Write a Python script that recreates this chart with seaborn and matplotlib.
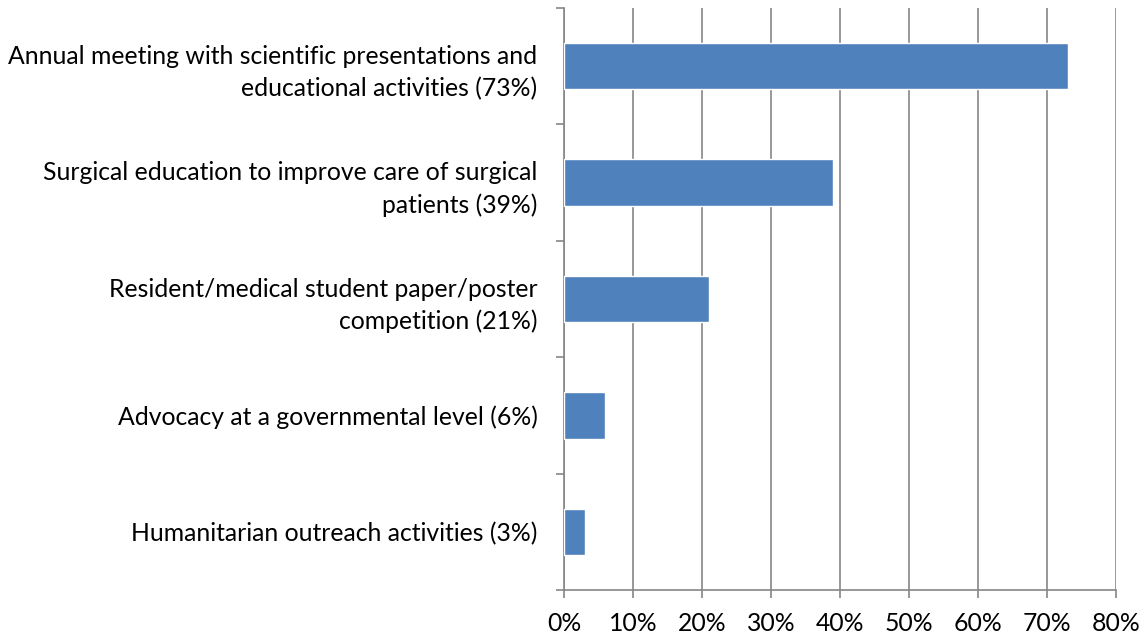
import matplotlib.pyplot as plt
import seaborn as sns
import pandas as pd
from matplotlib.ticker import FuncFormatter

sns.set_theme(style="white")
plt.rcParams["font.family"] = ["Lato", "DejaVu Sans"]

categories = [
    "Annual meeting with scientific presentations and\neducational activities (73%)",
    "Surgical education to improve care of surgical\npatients (39%)",
    "Resident/medical student paper/poster\ncompetition (21%)",
    "Advocacy at a governmental level (6%)",
    "Humanitarian outreach activities (3%)",
]
values = [73, 39, 21, 6, 3]

df = pd.DataFrame({"category": categories, "value": values})

grey = "#868686"
fig = plt.figure(figsize=(11.41, 6.39), dpi=100)
ax = fig.add_axes([564 / 1141, 1 - 590 / 639, (1116 - 564) / 1141, (590 - 8) / 639])

sns.barplot(data=df, x="value", y="category", orient="h", color="#4F81BD",
            saturation=1, width=0.4, ax=ax, zorder=3)

ax.set_xlim(0, 80)
ax.set_xticks(range(0, 81, 10))
ax.xaxis.set_major_formatter(FuncFormatter(lambda v, p: f"{v:.0f}%"))
ax.set_ylim(4.5, -0.5)
ax.set_yticks([i - 0.5 for i in range(6)], minor=False)
ax.set_yticklabels([])
ax.set_yticks(range(5), minor=True)
ax.set_yticklabels(categories, minor=True, fontsize=17.8, color="black")
ax.tick_params(axis="y", which="minor", length=0, pad=19)
ax.tick_params(axis="y", which="major", length=6, width=1.2, color=grey, left=True)
ax.tick_params(axis="x", length=6, width=1.2, color=grey, bottom=True, labelsize=17.8,
               labelcolor="black", pad=10)
for lab in ax.get_yticklabels(minor=True):
    lab.set_multialignment("right")
    lab.set_linespacing(1.45)

ax.grid(axis="x", color=grey, linewidth=1.2, zorder=0)
ax.set_axisbelow(True)
for s in ["top", "right"]:
    ax.spines[s].set_visible(False)
for s in ["left", "bottom"]:
    ax.spines[s].set_color(grey)
    ax.spines[s].set_linewidth(1.2)
ax.set_xlabel("")
ax.set_ylabel("")

fig.savefig("out.png", dpi=100, facecolor="white")
